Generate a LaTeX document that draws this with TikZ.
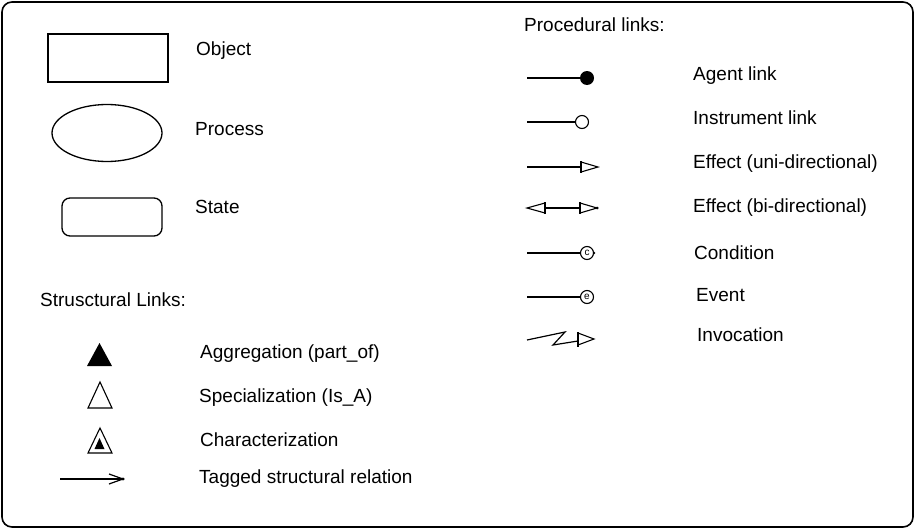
\documentclass[tikz,border=0pt]{standalone}
\usepackage{fontspec}
\setmainfont{Liberation Sans}
\usetikzlibrary{shapes.geometric}
\begin{document}
\begin{tikzpicture}[x=1pt,y=-1pt,
  lbl/.style={anchor=west,inner sep=0pt,font=\fontsize{19}{22}\selectfont},
  shp/.style={draw,line width=1.3pt},
  lnk/.style={line width=1.2pt},
  tri/.style={line width=1.1pt,line join=miter}]
\useasboundingbox (0,0) rectangle (916,530);
\fill[white] (0,0) rectangle (916,530);
\draw[line width=1.6pt,rounded corners=10pt] (2,2) rectangle (913,527);

% left: shapes
\node[shp,rectangle,minimum width=120pt,minimum height=48pt,inner sep=0pt] (obj) at (108,58) {};
\node[lbl] (objl) at (196,51) {Object};
\node[shp,ellipse,minimum width=110pt,minimum height=57pt,inner sep=0pt] (proc) at (107,133) {};
\node[lbl] (procl) at (195,129) {Process};
\node[shp,rectangle,rounded corners=8pt,minimum width=100pt,minimum height=38pt,inner sep=0pt] (state) at (112,217) {};
\node[lbl] (statel) at (195,207) {State};

\node[lbl] (struct) at (40,300) {Strusctural Links:};

% triangles
\fill[tri] (87,366) -- (99.5,343) -- (112,366) -- cycle;
\node[lbl] (aggl) at (200,354) {Aggregation (part\_of)};
\draw[tri] (88,408) -- (100,382) -- (112,408) -- cycle;
\node[lbl] (specl) at (199,398) {Specialization (Is\_A)};
\draw[tri] (88,453) -- (100,428) -- (112,453) -- cycle;
\fill (94.5,449) -- (99.5,438) -- (104.5,449) -- cycle;
\node[lbl] (charl) at (200,440) {Characterization};
\coordinate (ts) at (60,479);
\coordinate (te) at (123,479);
\draw[lnk] (ts) -- (te);
\draw[lnk] (109,474) -- (te) -- (109,484);
\fill (te) circle (1.6pt);
\node[lbl] (tagl) at (199,479) {Tagged structural relation};

% right: procedural links
\node[lbl] (procedural) at (524,25) {Procedural links:};

% agent
\coordinate (as) at (527,78);
\node[circle,fill,inner sep=0pt,minimum size=14pt] (ac) at (587,78) {};
\draw[lnk] (as) -- (ac.west);
\node[lbl] (agl) at (693,76) {Agent link};

% instrument
\coordinate (is) at (527,122);
\node[circle,draw,line width=1.1pt,fill=white,inner sep=0pt,minimum size=13pt] (ic) at (582,122) {};
\draw[lnk] (is) -- (ic.west);
\node[lbl] (inl) at (693,118) {Instrument link};

% effect uni
\coordinate (es) at (527,167);
\coordinate (eb) at (581,167);
\coordinate (et) at (598,167);
\draw[lnk] (es) -- (eb);
\draw[lnk] (581,161) -- (581,173);
\draw[tri] (581,162) -- (et) -- (581,172);
\node[lbl] (eul) at (693,164) {Effect (uni-directional)};

% effect bi
\coordinate (bt1) at (527,208);
\coordinate (bb1) at (545,208);
\coordinate (bb2) at (580,208);
\coordinate (bt2) at (597,208);
\draw[tri] (bb1) ++(0,-5) -- (bt1) -- (545,213) -- cycle;
\draw[lnk] (545,202) -- (545,214);
\draw[lnk] (bb1) -- (bb2);
\draw[lnk] (580,202) -- (580,214);
\draw[tri] (580,203) -- (bt2) -- (580,213);
\fill (bt2) circle (1.5pt);
\node[lbl] (ebl) at (693,208) {Effect (bi-directional)};

% condition
\coordinate (cs) at (527,253);
\node[circle,draw,line width=1.1pt,inner sep=0pt,minimum size=13pt,font=\fontsize{10}{10}\selectfont] (cc) at (587,253) {c};
\draw[lnk] (cs) -- (cc.west);
\fill (cc.east) circle (1.3pt);
\node[lbl] (condl) at (694,253) {Condition};

% event
\coordinate (evs) at (527,297);
\node[circle,draw,line width=1.1pt,inner sep=0pt,minimum size=13pt,font=\fontsize{10}{10}\selectfont] (ec) at (587,297) {e};
\draw[lnk] (evs) -- (ec.west);
\node[lbl] (evl) at (696,295) {Event};

% invocation
\coordinate (vs) at (527,340);
\coordinate (vz1) at (565,332);
\coordinate (vz2) at (553,345);
\coordinate (vb) at (578,341);
\coordinate (vt) at (594,339);
\draw[lnk,line join=miter] (vs) -- (vz1) -- (vz2) -- (vb);
\draw[lnk] (578,332) -- (578,347);
\draw[tri] (578,333) -- (vt) -- (578,345);
\node[lbl] (invl) at (697,335) {Invocation};
\end{tikzpicture}
\end{document}
